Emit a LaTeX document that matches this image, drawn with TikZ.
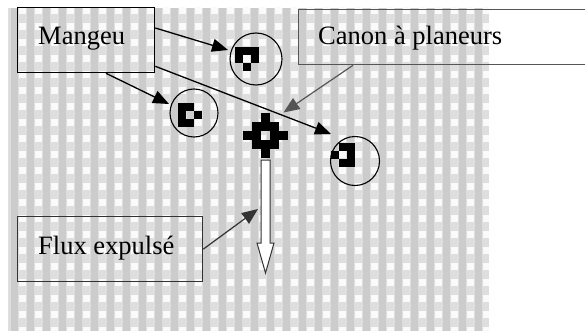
\documentclass[tikz,border=0pt]{standalone}
\usepackage{fontspec}
\setmainfont{Liberation Serif}
\usetikzlibrary{arrows.meta,calc}
\definecolor{gdark}{HTML}{CCCCCC}
\definecolor{glight}{HTML}{DEDEDE}
\definecolor{gwhite}{HTML}{FAFAFA}
\definecolor{boxgray}{HTML}{555555}
\definecolor{fluxgray}{HTML}{333333}
\begin{document}
\begin{tikzpicture}[x=1pt,y=-1pt,
  lbl/.style={font=\fontsize{26.5}{30}\selectfont, inner sep=0pt, anchor=base west},
  frame/.style={draw, line width=1.3pt, inner sep=0pt, anchor=north west},
  ring/.style={draw, circle, line width=1.1pt, inner sep=0pt},
  conn/.style={line width=1.3pt, -{Triangle[length=16pt,width=13pt]}},
  cellfill/.style={fill=black}
]
\useasboundingbox (0,0) rectangle (585,331);
\clip (0,0) rectangle (585,331);
\fill[white] (0,0) rectangle (585,331);
% checkered background
\begin{scope}
\clip (8,8) rectangle (489,331);
\fill[glight] (8,8) rectangle (489,331);
\foreach \i in {-1,...,29} \fill[gdark] ({27+16*\i},8) rectangle ++(7,323);
\foreach \i in {0,...,29} \foreach \j in {0,...,20} \fill[gwhite] ({19+16*\i},{7+16*\j}) rectangle ++(7,7);
\end{scope}

% boxes and labels
\node[frame, minimum width=137pt, minimum height=65pt] (mangeu) at (17,7) {};
\node[lbl] (mangeuT) at (38,45) {Mangeu};
\node[frame, draw=boxgray, minimum width=300pt, minimum height=55pt] (canonbox) at (298,9) {};
\node[lbl] (canonT) at (318,45) {Canon à planeurs};
\node[frame, draw=fluxgray, minimum width=185pt, minimum height=65pt] (flux) at (17,216) {};
\node[lbl] (fluxT) at (38,254) {Flux expulsé};

% circles
\node[ring, minimum size=52pt] (c1) at (256,59) {};
\node[ring, minimum size=48pt] (c2) at (194,113) {};
\node[ring, minimum size=49pt] (c3) at (355,161) {};

% patterns
\foreach \c/\r in {0/0,1/0,2/0,0/1,2/1,1/2} \fill[cellfill] ({235+8*\c},{47+8*\r}) rectangle ++(8,8);
\foreach \c/\r in {0/0,1/0,0/1,2/1,0/2,1/2} \fill[cellfill] ({178+8*\c},{103+8*\r}) rectangle ++(8,8);
\foreach \c/\r in {1/0,2/0,0/1,2/1,1/2,2/2} \fill[cellfill] ({331+8*\c},{143+8*\r}) rectangle ++(8,8);
\foreach \c/\r in {2/0,1/1,2/1,3/1,0/2,1/2,3/2,4/2,1/3,2/3,3/3,2/4} \fill[cellfill] ({243+9*\c},{113+9*\r}) rectangle ++(9,9);
\coordinate (canon) at (265.5,135.5);

% expelled flow arrow
\filldraw[fill=white, draw=fluxgray, line width=1pt] (261,160) -- (270,160) -- (270,243) -- (274,243) -- (265.5,273) -- (257,243) -- (261,243) -- cycle;
\coordinate (shaft) at (258,209);

% connectors
\draw[conn] ($(mangeu.north east)+(0,21)$) -- ($(c1.center)+(-28,-9)$);
\draw[conn] ($(mangeu.south west)+(89,0)$) -- ($(c2.center)+(-25,-9)$);
\draw[conn] ($(mangeu.south east)+(0,-7)$) -- ($(c3.center)+(-24,-27)$);
\draw[conn, draw=boxgray, line width=1.2pt] ($(canonbox.south west)+(55,0)$) -- ($(canon)+(18,-23)$);
\draw[conn, draw=fluxgray, line width=1.2pt] (flux.east) -- (shaft);
\end{tikzpicture}
\end{document}
